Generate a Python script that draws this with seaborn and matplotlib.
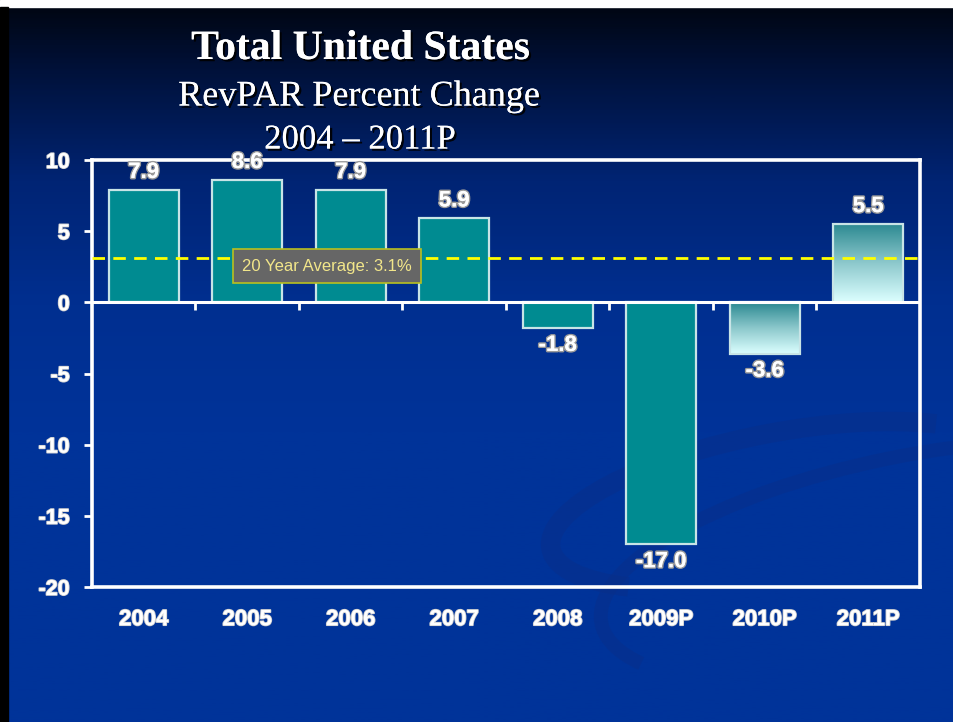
import numpy as np
import pandas as pd
import matplotlib
matplotlib.use("Agg")
import matplotlib.pyplot as plt
import matplotlib.patheffects as pe
from matplotlib.colors import LinearSegmentedColormap
from matplotlib.patches import Rectangle, Arc
import seaborn as sns

# ---- data ----
years = ["2004", "2005", "2006", "2007", "2008", "2009P", "2010P", "2011P"]
revpar_change = [7.9, 8.6, 7.9, 5.9, -1.8, -17.0, -3.6, 5.5]
gradient_years = ["2010P", "2011P"]
avg_value = 3.1
avg_label = "20 Year Average: 3.1%"
yticks = [-20, -15, -10, -5, 0, 5, 10]
title = "Total United States"
subtitle1 = "RevPAR Percent Change"
subtitle2 = "2004 – 2011P"

df = pd.DataFrame({"year": years, "change": revpar_change})

sns.set_theme(style="white")
plt.rcParams["font.family"] = ["Liberation Sans", "DejaVu Sans"]

W, H = 954, 722
fig = plt.figure(figsize=(W / 100, H / 100), dpi=100)

# ---- background gradient ----
bg = fig.add_axes([0, 0, 1, 1], zorder=0)
bg_cmap = LinearSegmentedColormap.from_list(
    "bg", [(0.0, "#000510"), (0.10, "#00123c"), (0.25, "#002474"),
           (0.42, "#002f90"), (0.6, "#003399"), (1.0, "#003399")])
grad = np.linspace(0, 1, 400).reshape(-1, 1)
bg.imshow(grad, aspect="auto", cmap=bg_cmap, extent=[0, 1, 0, 1], origin="upper")
# subtle decorative swooshes
for (cx, cy, w, h, t1, t2, lw) in [(0.82, 0.30, 0.50, 0.20, 20, 200, 14),
                                   (0.97, 0.22, 0.70, 0.30, 10, 190, 10)]:
    bg.add_patch(Arc((cx, cy), w, h, angle=15, theta1=t1, theta2=t2,
                     color="#0a2e88", lw=lw, alpha=0.45))
bg.add_patch(Rectangle((0, 1 - 7 / H), 1, 7 / H, color="white", zorder=5))
bg.add_patch(Rectangle((0, 0), 8 / W, 1 - 7 / H, color="black", zorder=5))
bg.set_xlim(0, 1)
bg.set_ylim(0, 1)
bg.axis("off")

# ---- main axes ----
left, right, top, bottom = 92, 920, 160, 587
ax = fig.add_axes([left / W, 1 - bottom / H, (right - left) / W, (bottom - top) / H], zorder=2)
ax.set_facecolor("none")

teal = "#008b91"
edge = "#c8e4e6"
sns.barplot(data=df, x="year", y="change", color=teal, saturation=1,
            edgecolor=edge, linewidth=1.6, width=0.675, ax=ax, zorder=3)

# gradient fills for projected bars
gcmap = LinearSegmentedColormap.from_list("g", ["#2a8890", "#8cc8cc", "#dcffff"])
garr = np.linspace(0, 1, 256).reshape(-1, 1)
for patch, yr in zip(ax.patches, years):
    if yr in gradient_years:
        x0, y0 = patch.get_x(), patch.get_y()
        w, h = patch.get_width(), patch.get_height()
        ylo, yhi = min(y0, y0 + h), max(y0, y0 + h)
        ax.imshow(garr, cmap=gcmap, aspect="auto", origin="upper",
                  extent=[x0, x0 + w, ylo, yhi], zorder=3.1)
        patch.set_facecolor("none")
        patch.set_zorder(3.2)

ax.set_xlim(-0.5, len(years) - 0.5)
ax.set_ylim(-20, 10)
ax.set_aspect("auto")

# axes frame
for s in ax.spines.values():
    s.set_color("white")
    s.set_linewidth(2.6)
    s.set_visible(True)
ax.axhline(0, color="white", lw=2.2, zorder=4)
# category separators on the zero line
for i in range(len(years) - 1):
    ax.plot([i + 0.5, i + 0.5], [0, -0.55], color="white", lw=2, zorder=4,
            solid_capstyle="butt")

ax.set_yticks(yticks)
ax.set_yticklabels([str(t) for t in yticks])
ax.tick_params(axis="y", colors="white", length=6, width=2, pad=10, labelsize=15.5, direction="out", left=True)
ax.tick_params(axis="x", colors="white", length=0, pad=16, labelsize=16)
for lbl in ax.get_yticklabels() + ax.get_xticklabels():
    lbl.set_fontweight("bold")
    lbl.set_color("white")
    lbl.set_path_effects([pe.withStroke(linewidth=1.2, foreground="#d0d0d0")])
ax.set_xlabel("")
ax.set_ylabel("")

# value labels
stroke = [pe.withStroke(linewidth=2.2, foreground="#9a9a9a"), pe.Normal()]
for i, v in enumerate(revpar_change):
    if v >= 0:
        ax.annotate(f"{v:.1f}", (i, v), xytext=(0, 5), textcoords="offset points",
                    ha="center", va="bottom", fontsize=16, fontweight="bold",
                    color="white", path_effects=stroke, zorder=6)
    else:
        ax.annotate(f"{v:.1f}", (i, v), xytext=(0, -5), textcoords="offset points",
                    ha="center", va="top", fontsize=16, fontweight="bold",
                    color="white", path_effects=stroke, zorder=6)

# average line + label
ax.axhline(avg_value, color="#ffff00", lw=2, linestyle=(0, (4.5, 3)), zorder=5)
ax.text(1.77, avg_value - 0.55, avg_label, ha="center", va="center",
        fontsize=12, color="#f2e68a", zorder=7,
        bbox=dict(boxstyle="square,pad=0.55", facecolor="#666666",
                  edgecolor="#b8c020", linewidth=1.2))

# ---- titles ----
shadow = [pe.withSimplePatchShadow(offset=(1.6, -1.6), shadow_rgbFace="black", alpha=0.9), pe.Normal()]
serif = ["Liberation Serif", "DejaVu Serif"]
fig.text(360 / W, 1 - 49 / H, title, ha="center", va="center", fontsize=30,
         fontweight="bold", color="white", family=serif, path_effects=shadow, zorder=10)
fig.text(359 / W, 1 - 97 / H, subtitle1, ha="center", va="center", fontsize=26,
         color="white", family=serif, path_effects=shadow, zorder=10)
fig.text(360 / W, 1 - 140 / H, subtitle2, ha="center", va="center", fontsize=25,
         color="white", family=serif, path_effects=shadow, zorder=10)

fig.savefig("out.png", dpi=100)
